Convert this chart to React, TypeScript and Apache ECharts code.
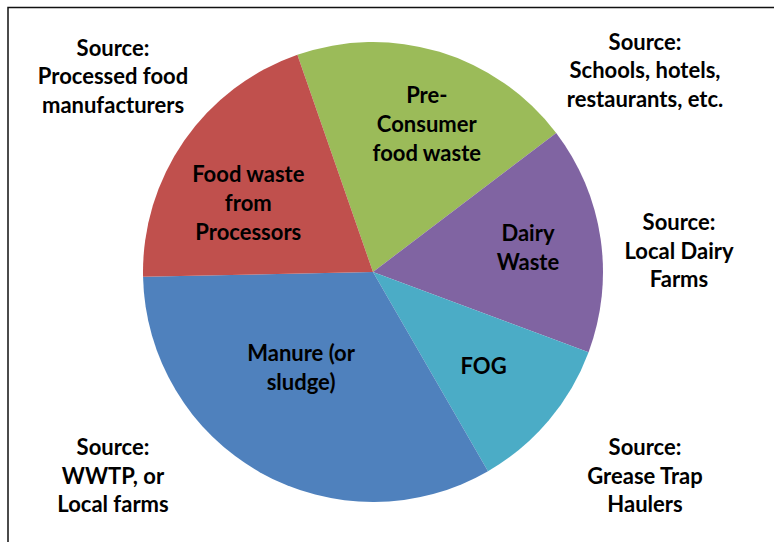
import React, { useEffect, useRef } from "react";
import * as echarts from "echarts";

// ---- data ----
const categories = [
  "Pre-\nConsumer\nfood waste",
  "Dairy\nWaste",
  "FOG",
  "Manure (or\nsludge)",
  "Food waste\nfrom\nProcessors",
];
const values = [20, 16, 11, 33, 20];
const sourceNotes = [
  "Source:\nProcessed food\nmanufacturers",
  "Source:\nSchools, hotels,\nrestaurants, etc.",
  "Source:\nLocal Dairy\nFarms",
  "Source:\nGrease Trap\nHaulers",
  "Source:\nWWTP, or\nLocal farms",
];

// ---- style ----
const colors = ["#9BBB59", "#8064A2", "#4BACC6", "#4F81BD", "#C0504D"];
const CX = 373;
const CY = 272;
const R = 230;
const START = 109.2; // degrees, ECharts convention (ccw from 3 o'clock)
// inside-label placement: [distance from centre, angular nudge in degrees]
const labelPlace = [
  [158, 3.1],
  [157, -0.8],
  [145, 0.1],
  [119, 7.8],
  [143, -5.5],
];
const notePos = [
  [113, 75.5],
  [645, 69.5],
  [679, 250],
  [645, 475],
  [113, 475],
];
const FONT = "Lato, 'Open Sans', sans-serif";
const FS = 22;

export default function App() {
  const ref = useRef<HTMLDivElement>(null);
  useEffect(() => {
    if (!ref.current) return;
    const chart = echarts.init(ref.current, undefined, { renderer: "svg" });
    const total = values.reduce((a, b) => a + b, 0);
    let acc = 0;
    const insideLabels = values.map((v, i) => {
      const midFrac = (acc + v / 2) / total;
      acc += v;
      // clockwise from start angle
      const angDeg = START - midFrac * 360 - labelPlace[i][1];
      const a = (angDeg * Math.PI) / 180;
      const d = labelPlace[i][0];
      return {
        type: "text",
        x: CX + d * Math.cos(a),
        y: CY - d * Math.sin(a),
        silent: true,
        z: 10,
        style: {
          text: categories[i],
          textAlign: "center",
          textVerticalAlign: "middle",
          fontFamily: FONT,
          fontWeight: "bold",
          fontSize: FS,
          lineHeight: 29,
          fill: "#000",
        },
      };
    });
    chart.setOption({
      animation: false,
      backgroundColor: "#ffffff",
      graphic: [
        {
          type: "polyline",
          shape: { points: [[8, 560], [8, 7.5], [790, 7.5]] },
          style: { stroke: "#111", lineWidth: 1.5, fill: "none" },
          silent: true,
        },
        ...sourceNotes.map((t, i) => ({
          type: "text",
          x: notePos[i][0],
          y: notePos[i][1],
          silent: true,
          style: {
            text: t,
            textAlign: "center",
            textVerticalAlign: "middle",
            fontFamily: FONT,
            fontWeight: "bold",
            fontSize: FS,
            lineHeight: 28.5,
            fill: "#000",
          },
        })),
        ...insideLabels,
      ],
      series: [
        {
          type: "pie",
          center: [CX, CY],
          radius: R,
          startAngle: START,
          clockwise: true,
          silent: true,
          itemStyle: { borderWidth: 0 },
          label: { show: false },
          labelLine: { show: false },
          data: categories.map((c, i) => ({
            name: c,
            value: values[i],
            itemStyle: { color: colors[i] },
          })),
        },
      ],
    });
    return () => chart.dispose();
  }, []);
  return (
    <div
      ref={ref}
      style={{ position: "absolute", left: 0, top: 0, width: 774, height: 542 }}
    />
  );
}
